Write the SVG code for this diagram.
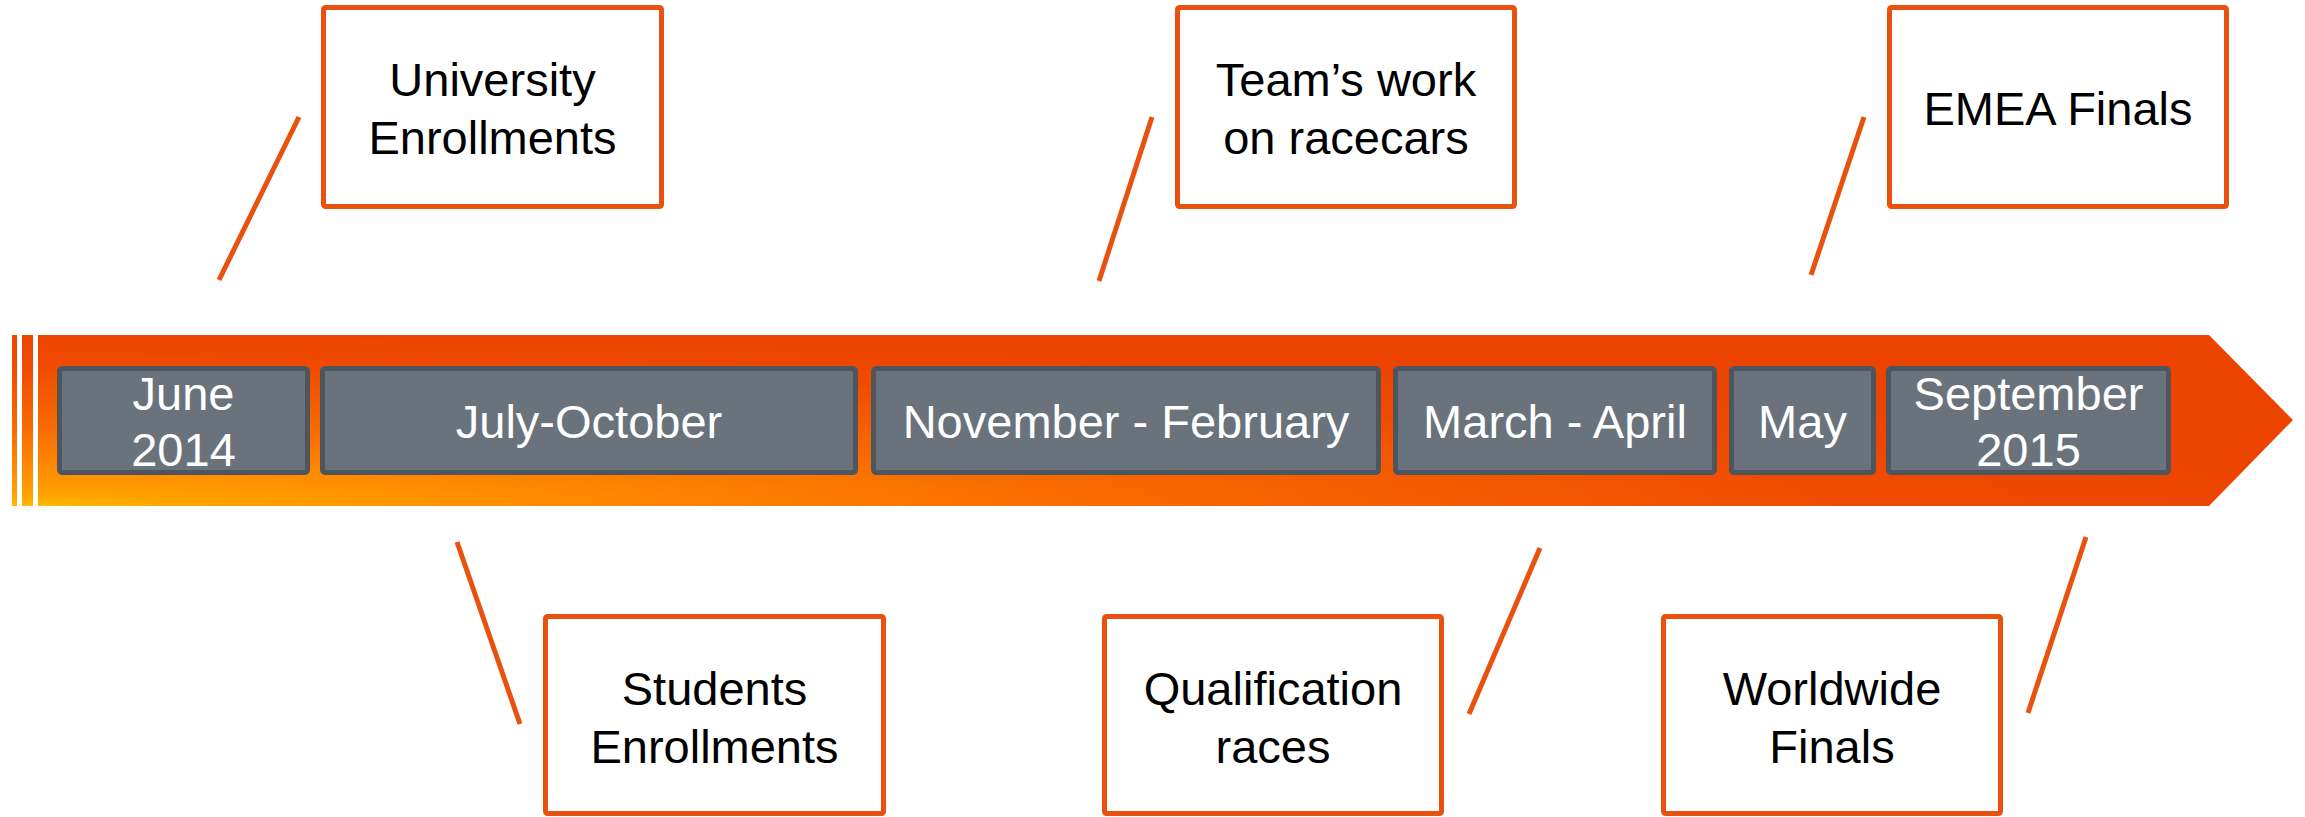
<svg xmlns="http://www.w3.org/2000/svg" width="2305" height="817" viewBox="0 0 2305 817">
<defs>
<radialGradient id="bar" gradientUnits="userSpaceOnUse" cx="0" cy="0" r="1" gradientTransform="translate(0,512) scale(2300,178)">
<stop offset="0" stop-color="#FFC800"/>
<stop offset="0.1" stop-color="#FFA200"/>
<stop offset="0.25" stop-color="#FF8A00"/>
<stop offset="0.5" stop-color="#F86800"/>
<stop offset="0.8" stop-color="#F04C00"/>
<stop offset="1" stop-color="#EC4400"/>
</radialGradient>
<style>
.month rect{fill:#6A737C;stroke:#4D555E;stroke-width:5}
.month text{fill:#FFFFFF;font-family:"Liberation Sans",Arial,sans-serif;font-size:47px;text-anchor:middle}
.callout rect{fill:#FFFFFF;stroke:#E8520E;stroke-width:5}
.callout text{fill:#000000;font-family:"Liberation Sans",Arial,sans-serif;font-size:47px;text-anchor:middle}
.conn line{stroke:#E8520E;stroke-width:5}
</style>
</defs>
<g id="timeline-bar" fill="url(#bar)">
<rect x="12" y="335" width="5" height="171"/>
<rect x="22" y="335" width="11" height="171"/>
<path d="M38 335 H2209 L2293 420 L2209 506 H38 Z"/>
</g>
<g id="month-june" class="month"><rect x="59.5" y="368.5" width="248" height="104" rx="3"/><text x="183.5" y="410">June</text><text x="183.5" y="466">2014</text></g>
<g id="month-july-october" class="month"><rect x="322.5" y="368.5" width="533" height="104" rx="3"/><text x="589" y="438">July-October</text></g>
<g id="month-nov-feb" class="month"><rect x="873.5" y="368.5" width="505" height="104" rx="3"/><text x="1126" y="438">November - February</text></g>
<g id="month-march-april" class="month"><rect x="1395.5" y="368.5" width="319" height="104" rx="3"/><text x="1555" y="438">March - April</text></g>
<g id="month-may" class="month"><rect x="1731.5" y="368.5" width="142" height="104" rx="3"/><text x="1802.5" y="438">May</text></g>
<g id="month-september" class="month"><rect x="1888.5" y="368.5" width="280" height="104" rx="3"/><text x="2028.5" y="410">September</text><text x="2028.5" y="466">2015</text></g>
<g id="callout-university" class="callout"><rect x="323.5" y="7.5" width="338" height="199" rx="2"/><text x="492.5" y="96">University</text><text x="492.5" y="154">Enrollments</text></g>
<g id="callout-team" class="callout"><rect x="1177.5" y="7.5" width="337" height="199" rx="2"/><text x="1346" y="96">Team’s work</text><text x="1346" y="154">on racecars</text></g>
<g id="callout-emea" class="callout"><rect x="1889.5" y="7.5" width="337" height="199" rx="2"/><text x="2058" y="125">EMEA Finals</text></g>
<g id="callout-students" class="callout"><rect x="545.5" y="616.5" width="338" height="197" rx="2"/><text x="714.5" y="705">Students</text><text x="714.5" y="763">Enrollments</text></g>
<g id="callout-qualification" class="callout"><rect x="1104.5" y="616.5" width="337" height="197" rx="2"/><text x="1273" y="705">Qualification</text><text x="1273" y="763">races</text></g>
<g id="callout-worldwide" class="callout"><rect x="1663.5" y="616.5" width="337" height="197" rx="2"/><text x="1832" y="705">Worldwide</text><text x="1832" y="763">Finals</text></g>
<g id="connectors" class="conn">
<line x1="299" y1="117" x2="219" y2="280"/>
<line x1="1152" y1="117" x2="1099" y2="281"/>
<line x1="1864" y1="117" x2="1811" y2="275"/>
<line x1="457" y1="542" x2="520" y2="724"/>
<line x1="1540" y1="548" x2="1469" y2="714"/>
<line x1="2086" y1="537" x2="2028" y2="713"/>
</g>
</svg>
